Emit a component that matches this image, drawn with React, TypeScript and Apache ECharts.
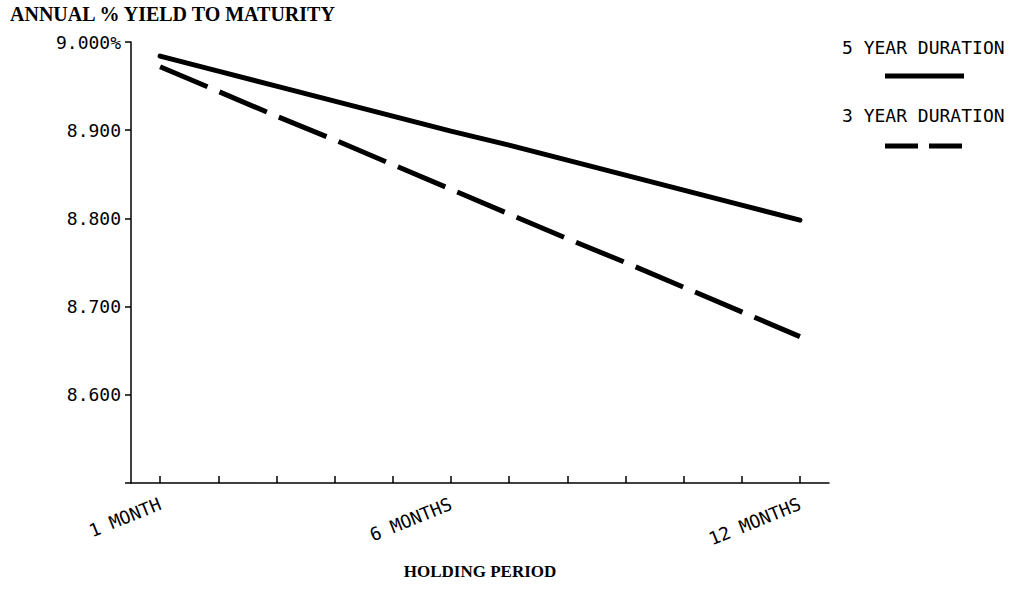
import React, { useEffect, useRef } from "react";
import * as echarts from "echarts";

const months = [
  "1 MONTH", "2 MONTHS", "3 MONTHS", "4 MONTHS", "5 MONTHS", "6 MONTHS",
  "7 MONTHS", "8 MONTHS", "9 MONTHS", "10 MONTHS", "11 MONTHS", "12 MONTHS",
];
const labelledMonths = [0, 5, 11];
const fiveYearDuration = [8.984, 8.967, 8.950, 8.933, 8.916, 8.899, 8.883, 8.866, 8.849, 8.832, 8.815, 8.798];
const threeYearDuration = [8.972, 8.944, 8.916, 8.889, 8.861, 8.833, 8.805, 8.777, 8.750, 8.722, 8.694, 8.666];
const yMin = 8.5;
const yMax = 9.0;
const yStep = 0.1;
const seriesNames = ["5 YEAR DURATION", "3 YEAR DURATION"];
const titleText = "ANNUAL % YIELD TO MATURITY";
const xName = "HOLDING PERIOD";

const plotFont = '"DejaVu Sans Mono", monospace';
const serifFont = '"Liberation Serif", "DejaVu Serif", serif';

export default function App() {
  const ref = useRef<HTMLDivElement>(null);
  useEffect(() => {
    if (!ref.current) return;
    const chart = echarts.init(ref.current, null, { renderer: "svg" });
    chart.setOption({
      animation: false,
      backgroundColor: "#fff",
      title: {
        text: titleText,
        left: 5,
        top: -1,
        textStyle: { fontFamily: serifFont, fontWeight: "bold", fontSize: 20, color: "#000" },
      },
      grid: { left: 131, right: 192, top: 42, bottom: 108 },
      xAxis: {
        type: "category",
        data: months,
        boundaryGap: true,
        axisLine: { show: true, lineStyle: { color: "#000", width: 1.5 } },
        axisTick: {
          show: true,
          alignWithLabel: true,
          inside: true,
          length: 7,
          interval: 0,
          lineStyle: { color: "#000", width: 1.5 },
        },
        axisLabel: {
          interval: (i: number) => labelledMonths.includes(i),
          rotate: 22,
          margin: 20,
          fontFamily: plotFont,
          fontSize: 18,
          color: "#000",
        },
        name: xName,
        nameLocation: "middle",
        nameGap: 80,
        nameTextStyle: { fontFamily: serifFont, fontWeight: "bold", fontSize: 17, color: "#000" },
        splitLine: { show: false },
      },
      yAxis: {
        type: "value",
        min: yMin,
        max: yMax,
        interval: yStep,
        axisLine: { show: true, onZero: false, lineStyle: { color: "#000", width: 1.5 } },
        axisTick: {
          show: true,
          inside: false,
          length: 6,
          lineStyle: { color: "#000", width: 1.5, opacity: 1 },
        },
        splitLine: { show: false },
        axisLabel: {
          margin: 10,
          fontFamily: plotFont,
          fontSize: 18,
          color: "#000",
          formatter: (v: number) => {
            if (Math.abs(v - yMin) < 1e-6) return "";
            if (Math.abs(v - yMax) < 1e-6) return v.toFixed(3) + "%";
            return v.toFixed(3);
          },
        },
      },
      series: [
        {
          name: seriesNames[0],
          type: "line",
          data: fiveYearDuration,
          symbol: "none",
          silent: true,
          lineStyle: { color: "#000", width: 5, cap: "round" },
        },
        {
          name: seriesNames[1],
          type: "line",
          data: threeYearDuration,
          symbol: "none",
          silent: true,
          lineStyle: { color: "#000", width: 5, type: [51.5, 13], cap: "butt" },
        },
      ],
      graphic: [
        {
          type: "text",
          left: 842,
          top: 38,
          style: { text: seriesNames[0], fontFamily: plotFont, fontSize: 18, fill: "#000" },
        },
        {
          type: "line",
          shape: { x1: 885, y1: 76, x2: 964, y2: 76 },
          style: { stroke: "#000", lineWidth: 5 },
        },
        {
          type: "text",
          left: 842,
          top: 106,
          style: { text: seriesNames[1], fontFamily: plotFont, fontSize: 18, fill: "#000" },
        },
        {
          type: "line",
          shape: { x1: 885, y1: 146, x2: 963, y2: 146 },
          style: { stroke: "#000", lineWidth: 5, lineDash: [33, 11] },
        },
      ],
    });
    return () => chart.dispose();
  }, []);
  return (
    <div
      ref={ref}
      style={{ position: "absolute", left: 0, top: 0, width: 1021, height: 591 }}
    />
  );
}
